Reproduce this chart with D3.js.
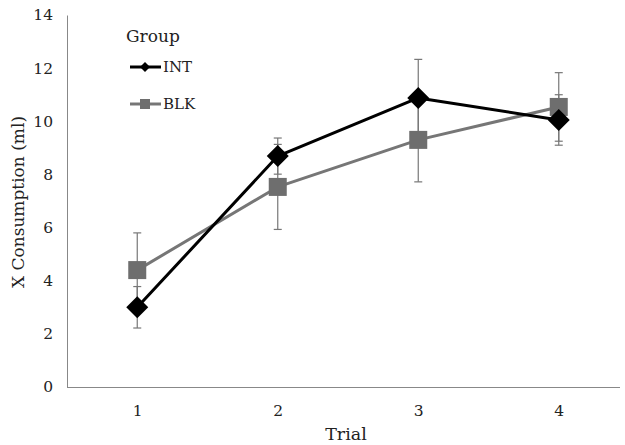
<!DOCTYPE html>
<html><head><meta charset="utf-8">
<script src="https://cdn.jsdelivr.net/npm/d3@7"></script>
<style>body{margin:0;background:#fff}</style>
</head><body>
<svg id="c" width="625" height="445"></svg>
<script>
const trials = ["1","2","3","4"];
const intValues = [3.0, 8.69, 10.88, 10.05];
const intErrors = [0.78, 0.68, 1.45, 0.95];
const blkValues = [4.40, 7.53, 9.30, 10.54];
const blkErrors = [1.4, 1.6, 1.58, 1.29];
const yTicks = [0,2,4,6,8,10,12,14];

const svg = d3.select("#c");
const font = "'DejaVu Serif',serif";
const x = d3.scalePoint().domain(trials).range([67,629]).padding(0.5);
const y = d3.scaleLinear().domain([0,14]).range([387,15]);

// axes
const ya = svg.append("g").attr("transform","translate(67,0)")
  .call(d3.axisLeft(y).tickValues(yTicks).tickSize(0).tickPadding(14));
ya.select(".domain").attr("stroke","#888");
ya.selectAll("text").attr("font-family",font).attr("font-size",15.5).attr("fill","#222");
const xa = svg.append("g").attr("transform","translate(0,387)")
  .call(d3.axisBottom(x).tickSize(0).tickPadding(18));
xa.select(".domain").remove();
svg.append("line").attr("x1",67).attr("x2",620).attr("y1",387.5).attr("y2",387.5).attr("stroke","#888");
xa.selectAll("text").attr("font-family",font).attr("font-size",15.5).attr("fill","#222");

svg.append("text").attr("x",346).attr("y",440).attr("text-anchor","middle")
  .attr("font-family",font).attr("font-size",17.5).attr("fill","#222").text("Trial");
svg.append("text").attr("transform","translate(24,202) rotate(-90)").attr("text-anchor","middle")
  .attr("font-family",font).attr("font-size",17).attr("fill","#222").text("X Consumption (ml)");

const series = [
  {name:"BLK", vals:blkValues, errs:blkErrors, color:"#767676", shape:"square"},
  {name:"INT", vals:intValues, errs:intErrors, color:"#000", shape:"diamond"}
];

function errBars(s){
  const g = svg.append("g");
  trials.forEach((t,i)=>{
    const cx = x(t), y0 = y(s.vals[i]-s.errs[i]), y1 = y(s.vals[i]+s.errs[i]);
    g.append("line").attr("x1",cx).attr("x2",cx).attr("y1",y0).attr("y2",y1).attr("stroke","#777").attr("stroke-width",1.2);
    [y0,y1].forEach(yy=>g.append("line").attr("x1",cx-4).attr("x2",cx+4).attr("y1",yy).attr("y2",yy).attr("stroke","#777").attr("stroke-width",1.2));
  });
}
function drawSeries(s){
  const line = d3.line().x((d,i)=>x(trials[i])).y(d=>y(d));
  svg.append("path").datum(s.vals).attr("d",line).attr("fill","none")
    .attr("stroke",s.color).attr("stroke-width",3).attr("stroke-linejoin","round");
  s.vals.forEach((v,i)=>{
    const cx = x(trials[i]), cy = y(v);
    if(s.shape==="square"){
      svg.append("rect").attr("x",cx-9).attr("y",cy-9).attr("width",18).attr("height",18).attr("fill","#6e6e6e");
    } else {
      svg.append("path").attr("d",`M${cx},${cy-11}L${cx+11},${cy}L${cx},${cy+11}L${cx-11},${cy}Z`).attr("fill","#000");
    }
  });
}
errBars(series[0]); errBars(series[1]);
drawSeries(series[0]); drawSeries(series[1]);

// legend
svg.append("text").attr("x",126).attr("y",42).attr("font-family",font).attr("font-size",17).attr("fill","#222").text("Group");
const lg = [{s:series[1], yy:67},{s:series[0], yy:104}];
lg.forEach(o=>{
  svg.append("line").attr("x1",130).attr("x2",161).attr("y1",o.yy).attr("y2",o.yy).attr("stroke",o.s.color).attr("stroke-width",3);
  if(o.s.shape==="square") svg.append("rect").attr("x",140).attr("y",o.yy-5).attr("width",10).attr("height",10).attr("fill","#6e6e6e");
  else svg.append("path").attr("d",`M145,${o.yy-5}L150,${o.yy}L145,${o.yy+5}L140,${o.yy}Z`).attr("fill","#000");
  svg.append("text").attr("x",163).attr("y",o.yy+5).attr("font-family",font).attr("font-size",15).attr("fill","#222").text(o.s.name);
});
</script>
</body></html>
